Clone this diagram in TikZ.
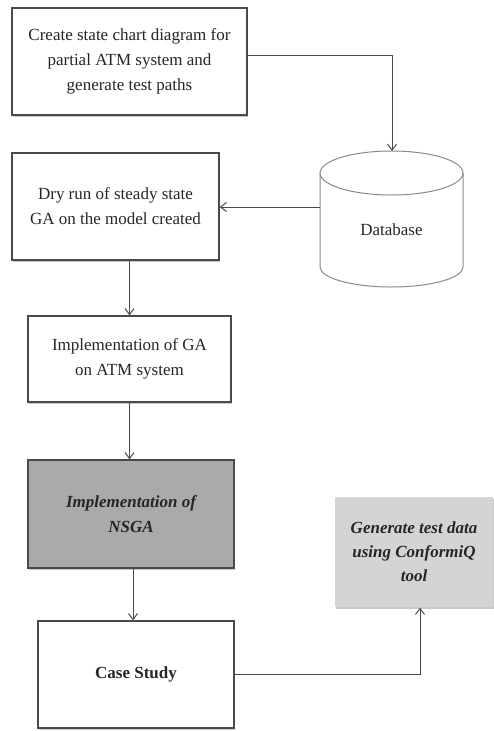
\documentclass[tikz,border=0pt]{standalone}
\usepackage{fontspec}
\setmainfont{Liberation Serif}
\usetikzlibrary{arrows.meta,shadows}
\definecolor{edge}{HTML}{4A4A4A}
\definecolor{dbedge}{HTML}{8A8A8A}
\definecolor{darkfill}{HTML}{AAAAAA}
\definecolor{lightfill}{HTML}{D4D4D4}
\begin{document}
\begin{tikzpicture}[x=1pt,y=-1pt,
  stepbox/.style={draw=edge,line width=1.3pt,fill=white,rectangle,align=center,
    font=\fontsize{17}{25}\selectfont,text=black!85,inner sep=2pt,
    drop shadow={shadow xshift=0.5pt,shadow yshift=-2pt,fill=black!35,opacity=0.6}},
  arr/.style={draw=edge,line width=1pt,-{Straight Barb[length=6pt,width=9pt]}}]
\useasboundingbox (0,0) rectangle (493,731);
\fill[white] (0,0) rectangle (493,731);
% boxes
\node[stepbox,minimum width=235pt,minimum height=107pt] (b1) at (129.5,61.5)
  {Create state chart diagram for\\partial ATM system and\\generate test paths};
\node[stepbox,minimum width=207pt,minimum height=107pt] (b2) at (115.5,206.5)
  {Dry run of steady state\\GA on the model created};
\node[stepbox,minimum width=203pt,minimum height=86pt] (b3) at (129.5,359)
  {Implementation of GA\\on ATM system};
\node[stepbox,fill=darkfill,minimum width=206pt,minimum height=108pt,font=\fontsize{17}{25}\selectfont\bfseries\itshape] (b4) at (131,514)
  {Implementation of\\NSGA};
\node[stepbox,minimum width=196pt,minimum height=107pt,font=\fontsize{17}{25}\selectfont\bfseries] (b5) at (136,674.5)
  {Case Study};
\node[stepbox,draw=none,fill=lightfill,minimum width=158pt,minimum height=110pt,font=\fontsize{17}{24}\selectfont\bfseries\itshape] (b6) at (414,552)
  {Generate test data\\using ConformiQ\\tool};
% database cylinder
\fill[white] (320,173) -- (320,267) arc[start angle=180,end angle=360,x radius=71.5pt,y radius=20pt] -- (463,173) -- cycle;
\draw[dbedge,line width=1pt] (320,173) -- (320,267) arc[start angle=180,end angle=360,x radius=71.5pt,y radius=20pt] -- (463,173);
\draw[dbedge,line width=1pt] (391.5,173) ellipse[x radius=71.5pt,y radius=22pt];
\node[font=\fontsize{17}{25}\selectfont,text=black!85] (db) at (391.5,230) {Database};
\coordinate (dbtop) at (392,151);
\coordinate (dbleft) at (320,207);
\coordinate (c1) at (392,55);
% connectors
\draw[arr] (b1.east |- c1) -| (dbtop);
\draw[arr] (dbleft) -- (b2.east |- dbleft);
\draw[arr] (b3.north |- b2.south) -- (b3.north);
\draw[arr] (b3.south) -- (b3.south |- b4.north);
\draw[arr] ([xshift=2pt]b4.south) -- ([xshift=2pt]b4.south |- b5.north);
\draw[arr] (b5.east) -| ([xshift=6pt]b6.south);
\end{tikzpicture}
\end{document}
